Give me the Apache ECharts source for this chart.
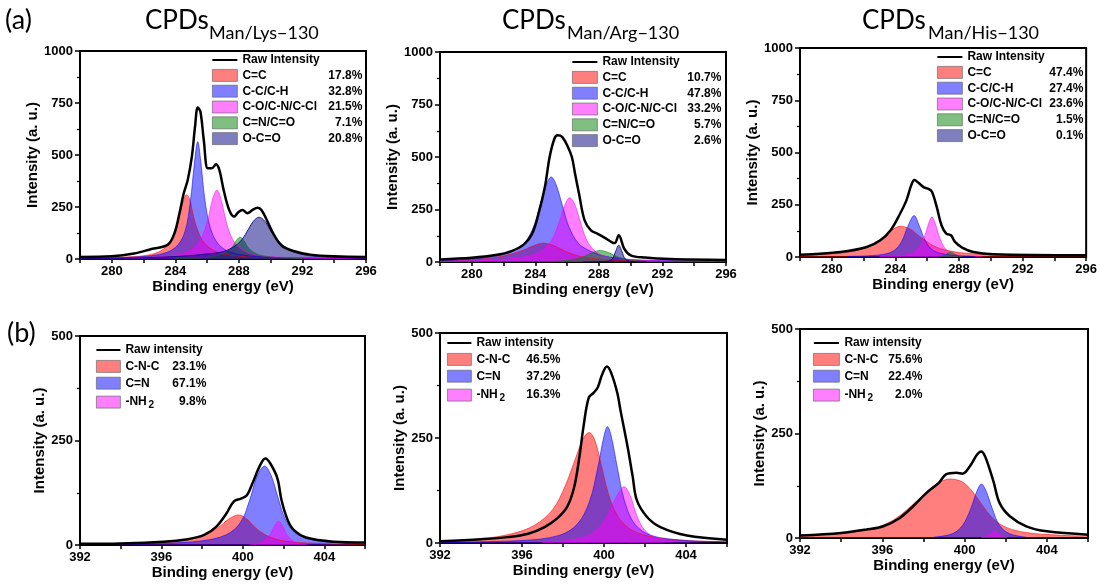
<!DOCTYPE html>
<html>
<head>
<meta charset="utf-8">
<script src="https://cdn.jsdelivr.net/npm/echarts@6/dist/echarts.min.js"></script>
<style>
html, body { margin: 0; padding: 0; background: #fff; }
#chart { width: 1100px; height: 586px; }
</style>
</head>
<body>
<div id="chart"></div>
<script>
// ---- component names, tick labels, sample names ----
const c1sLabels = ['C=C', 'C-C/C-H', 'C-O/C-N/C-Cl', 'C=N/C=O', 'O-C=O'];
const n1sLabels = ['C-N-C', 'C=N', '-NH2'];
const c1sTicks = [280, 284, 288, 292, 296];
const n1sTicks = [392, 396, 400, 404];
const sampleNames = ['Man/Lys\u2212130', 'Man/Arg\u2212130', 'Man/His\u2212130'];

// ---- fitted fractions ----
const lysC1sPct = ['17.8%', '32.8%', '21.5%', '7.1%', '20.8%'];
const argC1sPct = ['10.7%', '47.8%', '33.2%', '5.7%', '2.6%'];
const hisC1sPct = ['47.4%', '27.4%', '23.6%', '1.5%', '0.1%'];
const lysN1sPct = ['23.1%', '67.1%', '9.8%'];
const argN1sPct = ['46.5%', '37.2%', '16.3%'];
const hisN1sPct = ['75.6%', '22.4%', '2.0%'];

// ---- C 1s, Man/Lys-130 : [binding energy, intensity] ----
const lysC1sRaw = [[278,10],[280,13],[281.4,26],[282.5,48],[283.53,69],[283.95,125],[284.26,220],[284.53,316],[284.78,380],[285.04,492],[285.24,636],[285.41,728],[285.58,708],[285.79,572],[286.04,436],[286.29,436],[286.56,455],[286.77,428],[287.04,332],[287.39,236],[287.71,204],[287.96,225],[288.23,235],[288.54,220],[288.86,236],[289.17,246],[289.42,236],[289.8,180],[290.2,117],[290.7,64],[291.5,37],[292.5,21],[294,13],[296,10]];
const lysC1sCC2 = [[278,4],[281,10],[282.5,22],[283.3,50],[283.8,100],[284.2,190],[284.45,265],[284.7,308],[284.9,290],[285.1,220],[285.4,140],[285.8,80],[286.4,42],[287.3,20],[289,9],[292,5],[296,3]];
const lysC1sCC = [[278,3],[281,8],[283,22],[284,55],[284.6,130],[284.95,280],[285.2,460],[285.41,564],[285.6,470],[285.85,290],[286.2,150],[286.7,72],[287.5,32],[289,12],[292,5],[296,3]];
const lysC1sCO = [[278,2],[282,6],[284,18],[285,45],[285.6,95],[286.05,190],[286.35,290],[286.62,332],[286.9,280],[287.2,180],[287.6,95],[288.2,45],[289.2,18],[292,5],[296,2]];
const lysC1sCN = [[284,2],[286,8],[287,25],[287.5,50],[287.85,90],[288.08,105],[288.3,90],[288.65,50],[289.2,22],[290.2,8],[292,2]];
const lysC1sOCO = [[278,2],[282,6],[284.5,14],[286,24],[287,35],[287.6,55],[288.1,85],[288.5,130],[288.9,180],[289.27,201],[289.65,180],[290.05,130],[290.5,85],[291.1,48],[291.8,25],[293,12],[296,4]];

// ---- C 1s, Man/Arg-130 ----
const argC1sRaw = [[278,12],[280,20],[281.5,33],[282.5,52],[283.3,85],[283.8,135],[284.2,230],[284.6,357],[284.9,500],[285.2,587],[285.4,603],[285.7,595],[286.05,548],[286.3,500],[286.5,420],[286.75,325],[287.1,198],[287.5,151],[287.9,135],[288.35,116],[288.8,95],[289.0,90],[289.25,127],[289.6,63],[290.0,32],[290.9,21],[292.5,14],[296,10]];
const argC1sCC2 = [[278,5],[280,12],[281.5,22],[282.5,38],[283.3,58],[283.9,78],[284.5,90],[285.1,80],[285.7,58],[286.4,36],[287.3,20],[288.5,10],[291,5],[296,3]];
const argC1sCC = [[278,6],[280,14],[281.5,28],[282.5,50],[283.3,90],[283.9,170],[284.3,270],[284.7,370],[285.0,405],[285.3,370],[285.7,270],[286.1,170],[286.7,90],[287.5,50],[288.5,26],[290,12],[293,6],[296,4]];
const argC1sCO = [[278,3],[281,8],[283,20],[284.2,45],[285,100],[285.5,190],[285.85,270],[286.16,306],[286.45,280],[286.8,200],[287.2,110],[287.7,55],[288.4,25],[289.5,12],[292,5],[296,3]];
const argC1sCN = [[285,2],[286.3,10],[287,24],[287.6,45],[288.1,55],[288.6,45],[289.2,24],[289.9,10],[291,3]];
const argC1sOCO = [[287,0],[288.5,3],[288.85,15],[289.05,50],[289.25,80],[289.45,50],[289.65,15],[290,3],[291,0]];

// ---- C 1s, Man/His-130 ----
const hisC1sRaw = [[278,11],[280.55,24],[282.2,48],[283.05,80],[283.7,128],[284.3,208],[284.7,272],[285.0,344],[285.2,368],[285.45,355],[285.8,333],[286.1,325],[286.3,312],[286.6,240],[286.9,152],[287.2,112],[287.5,104],[287.75,72],[288.2,45],[288.9,24],[290.15,13],[296,8]];
const hisC1sCC2 = [[278,8],[280,16],[281.5,30],[282.5,55],[283.1,85],[283.7,125],[284.3,147],[284.9,135],[285.5,100],[286.2,62],[287,36],[288.5,18],[291,9],[296,4]];
const hisC1sCC = [[281,3],[283,10],[283.9,30],[284.4,75],[284.8,150],[285.18,198],[285.5,150],[285.9,75],[286.4,30],[287.4,10],[289,3]];
const hisC1sCO = [[283,2],[284.7,10],[285.4,35],[285.8,90],[286.05,150],[286.3,192],[286.55,150],[286.8,90],[287.2,35],[287.9,10],[289.5,2]];
const hisC1sCN = [[286.8,0],[287.1,8],[287.3,18],[287.48,24],[287.65,18],[287.85,8],[288.2,0]];
const hisC1sOCO = [[288.2,0],[288.6,3],[289,0]];

// ---- N 1s, Man/Lys-130 ----
const lysN1sRaw = [[392,3],[393,3],[396.1,8],[397.3,14],[398.1,24],[398.7,44],[399.2,76],[399.55,104],[399.9,111],[400.2,119],[400.5,151],[400.85,191],[401.1,207],[401.35,195],[401.7,159],[401.9,107],[402.2,60],[402.5,36],[403.1,18],[404.45,8],[406,6]];
const lysN1sCNC = [[392,1],[395,4],[396.8,10],[398,22],[398.8,42],[399.3,62],[399.8,72],[400.2,62],[400.6,42],[401.2,22],[402,10],[403.5,4],[406,1]];
const lysN1sCN = [[392,1],[396,4],[398,10],[399.2,25],[399.9,55],[400.35,110],[400.7,165],[401.07,189],[401.4,165],[401.75,110],[402.1,60],[402.6,28],[403.5,12],[405,5],[406,3]];
const lysN1sNH2 = [[400.3,0],[400.9,6],[401.3,22],[401.55,45],[401.75,57],[401.95,45],[402.2,22],[402.6,6],[403.2,0]];

// ---- N 1s, Man/Arg-130 ----
const argN1sRaw = [[392,4],[394,9],[395.3,14],[396.3,22],[397.1,38],[397.7,58],[398.2,86],[398.55,134],[398.8,205],[399.0,277],[399.25,345],[399.5,358],[399.7,371],[399.9,400],[400.14,420],[400.35,405],[400.65,357],[400.8,317],[401.15,229],[401.4,158],[401.6,102],[402.1,62],[402.75,38],[404.05,18],[406,8]];
const argN1sCNC = [[392,3],[394,10],[395.5,22],[396.6,42],[397.5,80],[398.1,135],[398.6,200],[399.0,250],[399.28,263],[399.55,245],[399.85,190],[400.2,120],[400.6,70],[401.2,36],[402.2,16],[404,6],[406,3]];
const argN1sCN = [[392,2],[396,6],[397.8,18],[398.7,45],[399.3,100],[399.7,180],[400.0,255],[400.17,277],[400.35,255],[400.65,180],[401.0,100],[401.5,45],[402.3,18],[404,6],[406,3]];
const argN1sNH2 = [[397,2],[398.5,8],[399.5,25],[400.1,60],[400.55,105],[400.98,134],[401.3,110],[401.6,65],[402,30],[402.6,12],[404,3]];

// ---- N 1s, Man/His-130 ----
const hisN1sRaw = [[392,6],[394,12],[395.2,20],[396.05,28],[396.85,48],[397.5,76],[398.15,108],[398.75,132],[399.1,152],[399.6,156],[399.9,154],[400.25,171],[400.6,199],[400.8,207],[401.0,195],[401.4,136],[401.7,84],[402.2,52],[403,28],[404,16],[406,8]];
const hisN1sCNC = [[392,5],[394,11],[395.5,22],[396.5,42],[397.3,72],[398,103],[398.6,128],[399.28,141],[399.9,134],[400.4,110],[400.9,76],[401.4,46],[402,26],[403,13],[404.5,7],[406,4]];
const hisN1sCN = [[398.5,2],[399.4,10],[399.9,30],[400.3,70],[400.6,112],[400.82,129],[401.05,112],[401.35,70],[401.7,30],[402.2,10],[403,2]];
const hisN1sNH2 = [[400.8,0],[401.15,6],[401.47,16],[401.75,6],[402.1,0]];

// ---- drawing ----
const FONT = '"Liberation Sans", Arial, sans-serif';
const TITLE_FONT = 'Lato, "Open Sans", sans-serif';
const RGB = {
  'C=C': '255,0,0', 'C-C/C-H': '0,0,255', 'C-O/C-N/C-Cl': '255,0,255',
  'C=N/C=O': '0,128,0', 'O-C=O': '0,0,128',
  'C-N-C': '255,0,0', 'C=N': '0,0,255', '-NH2': '255,0,255'
};
const LINE_ICON = 'path://M0,0L25,0L25,0.01Z M0,4.9L25,4.9L25,7.1L0,7.1Z M0,12L25,12L25,11.99Z';

// width of the "-NH" part of the legend label, so the subscript sits right after it
const measureCtx = document.createElement('canvas').getContext('2d');
measureCtx.font = 'bold 12px ' + FONT;
const nhWidth = Math.ceil(measureCtx.measureText('-NH').width) + 1;

const panels = [
  { raw: lysC1sRaw, rawName: 'Raw Intensity', parts: [lysC1sCC2, lysC1sCC, lysC1sCO, lysC1sCN, lysC1sOCO],
    labels: c1sLabels, pct: lysC1sPct, xr: [278, 296], yMax: 1000, ticks: c1sTicks,
    grid: { left: 80, top: 51, width: 286, height: 208 }, yGap: 38,
    lg: { left: 212, top: 54, iw: 25, gap: 3, nw: 86 } },
  { raw: argC1sRaw, rawName: 'Raw Intensity', parts: [argC1sCC2, argC1sCC, argC1sCO, argC1sCN, argC1sOCO],
    labels: c1sLabels, pct: argC1sPct, xr: [278, 296], yMax: 1000, ticks: c1sTicks,
    grid: { left: 440, top: 52, width: 286, height: 210 }, yGap: 36,
    lg: { left: 572, top: 56, iw: 25, gap: 3, nw: 85 } },
  { raw: hisC1sRaw, rawName: 'Raw Intensity', parts: [hisC1sCC2, hisC1sCC, hisC1sCO, hisC1sCN, hisC1sOCO],
    labels: c1sLabels, pct: hisC1sPct, xr: [278, 296], yMax: 1000, ticks: c1sTicks,
    grid: { left: 800, top: 48, width: 287, height: 209 }, yGap: 35,
    lg: { left: 937, top: 51, iw: 25, gap: 3, nw: 82 } },
  { raw: lysN1sRaw, rawName: 'Raw intensity', parts: [lysN1sCNC, lysN1sCN, lysN1sNH2],
    labels: n1sLabels, pct: lysN1sPct, xr: [392, 406], yMax: 500, ticks: n1sTicks,
    grid: { left: 80, top: 336, width: 285, height: 209 }, yGap: 32,
    lg: { left: 96, top: 344, iw: 24, gap: 4, nw: 47 } },
  { raw: argN1sRaw, rawName: 'Raw intensity', parts: [argN1sCNC, argN1sCN, argN1sNH2],
    labels: n1sLabels, pct: argN1sPct, xr: [392, 406], yMax: 500, ticks: n1sTicks,
    grid: { left: 440, top: 333, width: 287, height: 210 }, yGap: 31,
    lg: { left: 447, top: 337, iw: 24, gap: 4, nw: 50 } },
  { raw: hisN1sRaw, rawName: 'Raw intensity', parts: [hisN1sCNC, hisN1sCN, hisN1sNH2],
    labels: n1sLabels, pct: hisN1sPct, xr: [392, 406], yMax: 500, ticks: n1sTicks,
    grid: { left: 800, top: 329, width: 288, height: 209 }, yGap: 31,
    lg: { left: 813, top: 337, iw: 26, gap: 4, nw: 44 } }
];

const grid = [], xAxis = [], yAxis = [], series = [], legend = [];
const axisText = { fontFamily: FONT, fontWeight: 'bold', fontSize: 13, color: '#000' };
const nameText = { fontFamily: FONT, fontWeight: 'bold', fontSize: 15, color: '#000' };

panels.forEach((p, i) => {
  grid.push(Object.assign({ show: true, borderColor: '#000', borderWidth: 2, backgroundColor: 'transparent' }, p.grid));
  xAxis.push({
    type: 'value', gridIndex: i, min: p.xr[0], max: p.xr[1], interval: 2,
    name: 'Binding energy (eV)', nameLocation: 'middle', nameGap: 20, nameTextStyle: nameText,
    axisLine: { show: true, onZero: false, lineStyle: { color: '#000', width: 2 } },
    axisTick: { show: true, length: 4, lineStyle: { color: '#000', width: 1.5 } },
    axisLabel: Object.assign({ margin: 6, formatter: v => (p.ticks.indexOf(v) >= 0 ? String(v) : '') }, axisText),
    splitLine: { show: false }
  });
  yAxis.push({
    type: 'value', gridIndex: i, min: 0, max: p.yMax, interval: 250,
    name: 'Intensity (a. u.)', nameLocation: 'middle', nameGap: p.yGap, nameTextStyle: nameText,
    axisLine: { show: true, lineStyle: { color: '#000', width: 2 } },
    axisTick: { show: true, length: 5, lineStyle: { color: '#000', width: 1.5 } },
    minorTick: { show: true, splitNumber: 2, length: 3, lineStyle: { color: '#000', width: 1.2 } },
    axisLabel: Object.assign({ margin: 7, formatter: v => String(v) }, axisText),
    splitLine: { show: false }
  });

  p.parts.forEach((d, j) => {
    const name = p.labels[j];
    const rgb = RGB[name];
    series.push({
      type: 'line', name: name, xAxisIndex: i, yAxisIndex: i, data: d,
      smooth: 0.35, symbol: 'none', silent: true, z: 2,
      lineStyle: { width: 1, color: 'rgba(' + rgb + ',' + (name === 'O-C=O' ? 0.85 : 0.55) + ')' },
      areaStyle: { color: 'rgba(' + rgb + ',0.5)', opacity: 1 },
      itemStyle: { color: 'rgb(' + rgb + ')' }
    });
  });
  series.push({
    type: 'line', name: p.rawName, xAxisIndex: i, yAxisIndex: i, data: p.raw,
    smooth: 0.35, symbol: 'none', silent: true, z: 4,
    lineStyle: { width: 2.5, color: '#000' }, itemStyle: { color: '#000' }
  });

  const lg = p.lg;
  const base = { fontFamily: FONT, fontWeight: 'bold', fontSize: 12, color: '#000', lineHeight: 12 };
  legend.push({
    orient: 'vertical', left: lg.left, top: lg.top, padding: 0,
    itemWidth: lg.iw, itemHeight: 12, itemGap: lg.gap, selectedMode: false,
    data: [{ name: p.rawName, icon: LINE_ICON, itemStyle: { color: '#000', borderWidth: 0 } }].concat(
      p.labels.map(l => ({ name: l, icon: 'rect',
        itemStyle: { color: 'rgba(' + RGB[l] + ',0.5)', borderColor: 'rgba(90,90,90,0.75)', borderWidth: 0.8 } }))),
    formatter: name => {
      const k = p.labels.indexOf(name);
      if (k < 0) return '{r|' + name + '}';
      const label = name === '-NH2' ? '{h|-NH}{s|2}' : '{n|' + name + '}';
      return label + '{p|' + p.pct[k] + '}';
    },
    textStyle: Object.assign({}, base, {
      rich: {
        r: base,
        n: Object.assign({}, base, { width: lg.nw }),
        h: Object.assign({}, base, { width: nhWidth }),
        s: Object.assign({}, base, { fontSize: 10, lineHeight: 10, width: lg.nw - nhWidth, padding: [7, 0, 0, 0] }),
        p: Object.assign({}, base, { width: 34, align: 'right' })
      }
    })
  });
});

// Panel titles and letters
const titlePos = [
  { x: 145, sx: 209 },
  { x: 502, sx: 567 },
  { x: 862, sx: 928 }
];
const graphic = [];
titlePos.forEach((t, k) => {
  graphic.push({ type: 'text', left: t.x, top: 8, silent: true,
    style: { text: 'CPDs', font: '26px ' + TITLE_FONT, fill: '#000' } });
  graphic.push({ type: 'text', left: t.sx, top: 24, silent: true,
    style: { text: sampleNames[k], font: '18px ' + TITLE_FONT, fill: '#000' } });
});
graphic.push({ type: 'text', left: 5, top: 7, silent: true,
  style: { text: '(a)', font: '27px ' + TITLE_FONT, fill: '#000' } });
graphic.push({ type: 'text', left: 7, top: 320, silent: true,
  style: { text: '(b)', font: '27px ' + TITLE_FONT, fill: '#000' } });

const chart = echarts.init(document.getElementById('chart'), null, { renderer: 'canvas' });
chart.setOption({
  animation: false,
  backgroundColor: '#fff',
  grid: grid, xAxis: xAxis, yAxis: yAxis, series: series, legend: legend, graphic: graphic
});
</script>
</body>
</html>
